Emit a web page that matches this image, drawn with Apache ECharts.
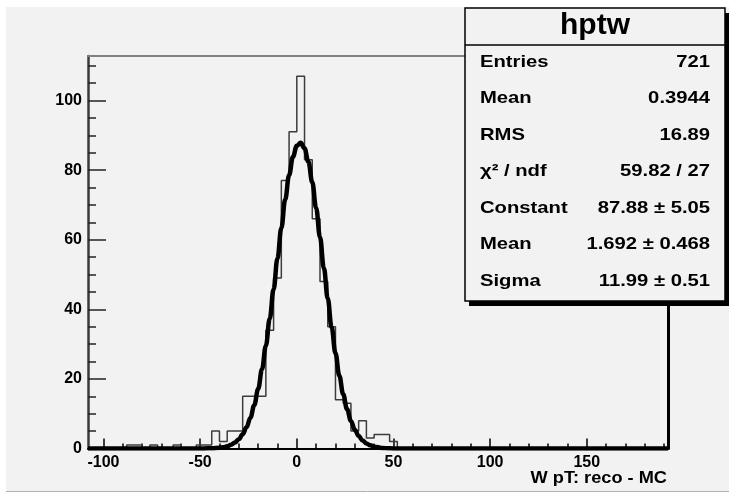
<!DOCTYPE html>
<html><head><meta charset="utf-8">
<script src="https://cdn.jsdelivr.net/npm/echarts@6/dist/echarts.min.js"></script>
<style>html,body{margin:0;padding:0;background:#ffffff}#c{width:729px;height:496px}</style>
</head><body><div id="c"></div>
<script>
// ---- data ----
const binLow = -108;
const binWidth = 4;
const counts = [0,0,0,0,0,1,1,0,1,0, 0,1,0,0,1,1,5,2,5,5, 15,15,15,34,49,77,91,107,83,66, 48,35,14,13,5,8,3,4,4,2,
  0,0,0,0,0,0,0,0,0,0, 0,0,0,0,0,0,0,0,0,0, 0,0,0,0,0,0,0,0,0,0, 0,0,0,0,0];
const fitX = [-108,-70,-60,-52,-48,-44,-40,-38,-36,-34,-32,-30,-28,-26,-24,-22,-20,-18,-16,-14,-12,-10,-8,-6,-4,-2,0,2,4,6,8,10,12,14,16,18,20,22,24,26,28,30,32,34,36,38,40,44,48,52,60,192];
const fitY = [0,0,0,0.01,0.02,0.06,0.21,0.37,0.63,1.05,1.70,2.67,4.09,6.10,8.85,12.45,17.08,22.78,29.56,37.31,45.78,54.63,63.39,71.53,78.51,83.81,87.01,87.85,86.27,82.39,76.53,69.13,60.73,51.89,43.12,34.85,27.39,20.94,15.57,11.26,7.92,5.41,3.60,2.33,1.47,0.90,0.53,0.17,0.05,0.01,0,0];
const xMajorTicks = [-100,-50,0,50,100,150];
const xMinorTicks = [-90,-80,-70,-60,-40,-30,-20,-10,10,20,30,40,60,70,80,90,110,120,130,140,160,170,180,190];
const yMajorTicks = [0,20,40,60,80,100];
const yMinorTicks = [5,10,15,25,30,35,45,50,55,65,70,75,85,90,95,105,110];
const xTitle = 'W pT: reco - MC';
const statsTitle = 'hptw';
const statsNames = ['Entries','Mean','RMS','\u03c7\u00b2 / ndf','Constant','Mean','Sigma'];
const statsValues = ['721','0.3944','16.89','59.82 / 27','87.88 \u00b1 5.05','1.692 \u00b1 0.468','11.99 \u00b1 0.51'];

// ---- build ----
const FONT = '"Liberation Sans", Arial, Helvetica, sans-serif';
const xMin = -108, xMax = 192, yMin = 0, yMax = 112.8;

const histData = [[binLow, 0]];
counts.forEach((c, i) => histData.push([binLow + i * binWidth, c]));
histData.push([binLow + counts.length * binWidth, counts[counts.length - 1]]);
histData.push([binLow + counts.length * binWidth, 0]);
const fitData = fitX.map((x, i) => [x, fitY[i]]);

const chart = echarts.init(document.getElementById('c'), null, {renderer: 'canvas'});

const box = {x: 465, y: 8, w: 260, h: 293};
const rowY0 = 62.3, rowStep = 36.5;
const graphics = [
  {type: 'rect', silent: true, z: -100, shape: {x: 6, y: 7, width: 723, height: 484}, style: {fill: '#f2f2f2'}},
  {type: 'line', silent: true, z: -99, shape: {x1: 6, y1: 491.5, x2: 729, y2: 491.5}, style: {stroke: '#b0b0b0', lineWidth: 1}},
  {type: 'rect', silent: true, z: 100, shape: {x: box.x + 4, y: box.y + 5, width: box.w, height: box.h}, style: {fill: '#000'}},
  {type: 'rect', silent: true, z: 101, shape: {x: box.x, y: box.y, width: box.w, height: box.h}, style: {fill: '#f2f2f2', stroke: '#000', lineWidth: 1.5}},
  {type: 'line', silent: true, z: 102, shape: {x1: box.x, y1: 45, x2: box.x + box.w, y2: 45}, style: {stroke: '#000', lineWidth: 1.5}},
  {type: 'text', silent: true, z: 103, x: box.x + box.w / 2, y: 25.6,
   style: {text: statsTitle, fill: '#000', font: 'bold 30px ' + FONT, textAlign: 'center', textVerticalAlign: 'middle', align: 'center', verticalAlign: 'middle'}},
  {type: 'text', silent: true, z: 50, x: 667, y: 478, scaleX: 1.07,
   style: {text: xTitle, fill: '#000', font: 'bold 17px ' + FONT, textAlign: 'right', textVerticalAlign: 'middle', align: 'right', verticalAlign: 'middle'}}
];
statsNames.forEach((n, i) => {
  graphics.push({type: 'text', silent: true, z: 103, x: 480, y: rowY0 + i * rowStep, scaleX: 1.19,
    style: {text: n, fill: '#000', font: 'bold 17px ' + FONT, textAlign: 'left', textVerticalAlign: 'middle', align: 'left', verticalAlign: 'middle'}});
  graphics.push({type: 'text', silent: true, z: 103, x: 710, y: rowY0 + i * rowStep, scaleX: 1.19,
    style: {text: statsValues[i], fill: '#000', font: 'bold 17px ' + FONT, textAlign: 'right', textVerticalAlign: 'middle', align: 'right', verticalAlign: 'middle'}});
});

const noSplit = {show: false};
chart.setOption({
  animation: false,
  backgroundColor: 'transparent',
  grid: {left: 88, top: 56, width: 580, height: 392.5, containLabel: false},
  xAxis: [
    {type: 'value', min: xMin, max: xMax, position: 'bottom',
     axisLine: {show: true, onZero: false, lineStyle: {color: '#000', width: 2}},
     axisTick: {show: true, inside: true, length: 10, customValues: xMajorTicks, lineStyle: {color: '#000', width: 1.5}},
     axisLabel: {show: true, customValues: xMajorTicks, color: '#000', fontSize: 16, fontWeight: 'bold', fontFamily: FONT, margin: 6},
     splitLine: noSplit},
    {type: 'value', min: xMin, max: xMax, position: 'bottom',
     axisLine: {show: false, onZero: false},
     axisTick: {show: true, inside: true, length: 5, customValues: xMinorTicks, lineStyle: {color: '#000', width: 1.5}},
     axisLabel: {show: false}, splitLine: noSplit},
    {type: 'value', min: xMin, max: xMax, position: 'top',
     axisLine: {show: true, onZero: false, lineStyle: {color: '#808080', width: 2}},
     axisTick: {show: false}, axisLabel: {show: false}, splitLine: noSplit}
  ],
  yAxis: [
    {type: 'value', min: yMin, max: yMax, position: 'left',
     axisLine: {show: true, onZero: false, lineStyle: {color: '#3a3a3a', width: 2.5}},
     axisTick: {show: true, inside: true, length: 18, customValues: yMajorTicks, lineStyle: {color: '#222', width: 1.5}},
     axisLabel: {show: true, customValues: yMajorTicks, color: '#000', fontSize: 16, fontWeight: 'bold', fontFamily: FONT, margin: 6},
     splitLine: noSplit},
    {type: 'value', min: yMin, max: yMax, position: 'left',
     axisLine: {show: false, onZero: false},
     axisTick: {show: true, inside: true, length: 8, customValues: yMinorTicks, lineStyle: {color: '#222', width: 1.5}},
     axisLabel: {show: false}, splitLine: noSplit},
    {type: 'value', min: yMin, max: yMax, position: 'right',
     axisLine: {show: true, onZero: false, lineStyle: {color: '#000', width: 3}},
     axisTick: {show: false}, axisLabel: {show: false}, splitLine: noSplit}
  ],
  series: [
    {type: 'line', name: 'hptw', xAxisIndex: 0, yAxisIndex: 0, data: histData, step: 'end',
     symbol: 'none', silent: true, lineStyle: {color: '#3c3c3c', width: 1.5}, z: 3},
    {type: 'line', name: 'gaus', xAxisIndex: 0, yAxisIndex: 0, data: fitData, smooth: 0.4, smoothMonotone: 'x',
     symbol: 'none', silent: true, lineStyle: {color: '#000', width: 4.5}, z: 4}
  ],
  graphic: graphics
});
</script>
</body></html>
